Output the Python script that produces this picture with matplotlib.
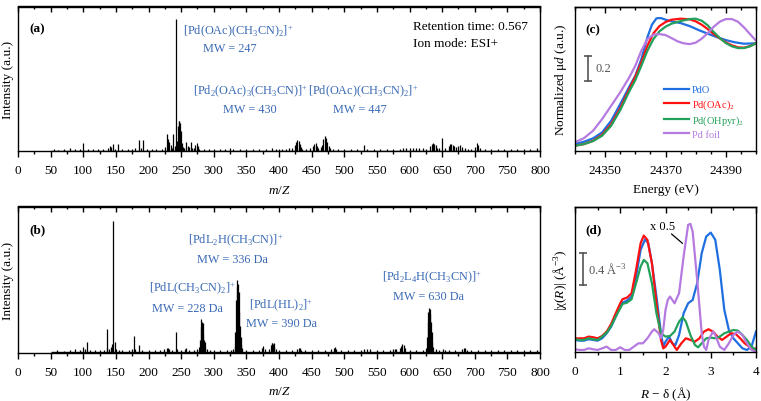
import matplotlib
matplotlib.use('Agg')
import matplotlib.pyplot as plt
from matplotlib.ticker import MultipleLocator, FixedLocator
import matplotlib.transforms as mtrans

plt.rcParams['font.family'] = ['Liberation Serif', 'DejaVu Serif']
plt.rcParams['mathtext.fontset'] = 'custom'
plt.rcParams['mathtext.rm'] = 'Liberation Serif'
plt.rcParams['mathtext.it'] = 'Liberation Serif:italic'
plt.rcParams['mathtext.bf'] = 'Liberation Serif:bold'

# ---------------- data: panel (a) mass spectrum ----------------
a_mz = [55, 62, 70, 80, 88, 95, 100, 108, 115, 122, 130, 138, 141, 143, 145, 148, 153, 160, 168, 175,
        180, 185, 188, 192, 198, 205, 212, 220, 226, 228, 230, 232, 234, 236, 238, 240, 242, 244, 245,
        246, 247, 248, 249, 250, 251, 253, 255, 258, 260, 262, 265, 267, 270, 272, 274, 276, 278, 285,
        292, 300, 310, 318, 325, 330, 340, 350, 360, 370, 380, 390, 395, 400, 405, 410, 415, 420, 424,
        426, 428, 430, 432, 434, 436, 442, 448, 452, 454, 456, 458, 460, 464, 466, 468, 470, 472, 474,
        476, 478, 482, 490, 500, 510, 520, 530, 535, 545, 555, 565, 575, 585, 590, 595, 600, 605, 610,
        615, 620, 625, 632, 634, 636, 638, 640, 642, 645, 650, 655, 660, 662, 664, 666, 668, 672, 675,
        678, 680, 685, 690, 695, 700, 703, 705, 708, 715, 725, 735, 745, 755, 765, 775, 785, 795]
a_int = [1.5, 1, 1.5, 2.5, 2, 1.5, 8, 1.5, 2, 1.5, 2, 3, 5, 4, 7, 2, 6.5, 2, 1.5, 2,
         2.5, 10.5, 3, 11, 2, 2, 1.5, 2, 4, 17, 12, 9, 6, 3, 17, 5, 132, 10, 25,
         30, 30, 28, 12, 20, 8, 4, 3, 9, 5, 4, 9, 3, 3, 6, 8, 5, 2, 2,
         1.5, 2, 1.5, 2, 2.5, 2, 1.5, 2, 1.5, 2, 2, 2.5, 1.5, 2, 2, 2, 3, 3, 6,
         9, 11, 10, 7, 4, 2, 2, 3, 5, 7, 7.5, 5, 3, 4, 6, 12, 14.7, 13, 9,
         5, 3, 2, 2, 1.5, 2, 2, 6, 2, 1.5, 2, 1.5, 2, 2, 3, 3, 3, 2.5, 3,
         2.5, 3, 2, 5, 7, 8, 7, 6, 3, 3, 13, 3, 5, 7, 6.5, 6, 5, 4, 5,
         6, 4, 2.5, 2, 2, 4, 8, 6, 3, 2, 1.5, 2, 1.5, 2, 1.5, 2, 2, 2.5]

# ---------------- data: panel (b) mass spectrum ----------------
b_mz = [60, 70, 80, 88, 95, 100, 103, 105, 110, 118, 125, 132, 136, 137, 139, 142, 144, 146, 148, 150,
        155, 160, 170, 175, 178, 180, 186, 190, 200, 210, 218, 224, 228, 230, 232, 236, 242, 244, 250,
        256, 258, 262, 270, 275, 277, 279, 280, 281, 282, 283, 284, 285, 286, 287, 290, 295, 300, 310,
        320, 326, 330, 332, 333, 334, 335, 336, 337, 338, 339, 340, 341, 342, 344, 350, 360, 370, 374,
        376, 378, 385, 388, 389, 390, 391, 392, 393, 395, 400, 410, 420, 428, 430, 432, 434, 440, 450,
        460, 470, 480, 484, 486, 488, 495, 505, 515, 525, 530, 535, 540, 550, 560, 570, 575, 578, 580,
        585, 587, 589, 591, 593, 600, 610, 620, 625, 627, 628, 629, 630, 631, 632, 633, 634, 635, 636,
        640, 645, 652, 655, 660, 670, 680, 683, 685, 688, 695, 705, 715, 725, 735, 745, 755, 765, 775,
        785, 795]
b_int = [1.5, 1, 2, 2.5, 2, 5, 3, 10, 2, 2, 1.5, 2, 4, 23, 3, 5, 8, 131, 10, 3,
         2, 2, 2, 3, 16, 3, 7, 2, 2, 2, 2, 3, 4, 4, 3, 2, 20, 3, 2,
         3, 4, 2, 2, 3, 5, 12, 25, 33, 30, 29, 18, 12, 10, 5, 3, 2, 2, 2,
         2, 2, 3, 6, 20, 52, 65, 72, 68, 60, 40, 26, 15, 8, 4, 2, 2, 2, 4,
         6, 3, 3, 7, 9, 9, 8, 9, 5, 3, 2, 2, 2, 3, 4, 4, 2, 2, 1.5,
         2, 2, 3, 4, 5, 3, 2, 1.5, 2, 2, 2.5, 3, 2.5, 2, 2, 2, 3, 3, 2.5,
         4, 6, 8, 7, 4, 2, 2, 2, 4, 15, 30, 40, 44, 43, 38, 30, 20, 10, 5,
         3, 2, 3, 2, 2, 2, 3, 4, 4, 2, 2, 2, 1.5, 2, 1.5, 2, 1.5, 2, 1.5,
         2, 2]

# ---------------- data: panel (c) XANES ----------------
c_E_pdo = [24340, 24343, 24346, 24349, 24352, 24355, 24358, 24360, 24362, 24364, 24365.5, 24367,
           24368.5, 24370, 24372, 24375, 24378, 24381, 24384, 24387, 24390, 24393, 24396, 24400]
c_pdo = [0.053, 0.072, 0.099, 0.147, 0.24, 0.373, 0.512, 0.6, 0.733, 0.907, 1.008, 1.059,
         1.061, 1.048, 1.035, 1.021, 0.997, 0.965, 0.936, 0.909, 0.885, 0.867, 0.856, 0.859]
c_E = [24340, 24343, 24346, 24349, 24352, 24355, 24358, 24360, 24362, 24364, 24366, 24368, 24370,
       24372, 24375, 24378, 24380, 24382, 24384, 24386, 24388, 24390, 24392, 24394, 24396, 24398, 24400]
c_oac = [0.04, 0.053, 0.08, 0.128, 0.213, 0.341, 0.493, 0.592, 0.707, 0.84, 0.939, 0.997, 1.029,
         1.048, 1.056, 1.051, 1.035, 1.008, 0.973, 0.933, 0.899, 0.867, 0.843, 0.827, 0.824, 0.837, 0.859]
c_ohpyr = [0.04, 0.053, 0.077, 0.12, 0.2, 0.325, 0.475, 0.565, 0.68, 0.8, 0.893, 0.955, 0.992,
           1.016, 1.037, 1.053, 1.056, 1.04, 1.003, 0.949, 0.901, 0.861, 0.835, 0.821, 0.821, 0.835, 0.859]
c_E_foil = [24340, 24343, 24346, 24349, 24352, 24355, 24358, 24360, 24362, 24364, 24366, 24368, 24370,
            24372, 24374, 24376, 24378, 24380, 24382, 24384, 24386, 24388, 24390, 24392, 24394, 24396,
            24398, 24400]
c_foil = [0.067, 0.101, 0.16, 0.253, 0.36, 0.467, 0.587, 0.68, 0.8, 0.893, 0.928, 0.933, 0.925,
          0.901, 0.875, 0.859, 0.853, 0.864, 0.896, 0.941, 0.992, 1.032, 1.053, 1.053, 1.032, 0.987,
          0.933, 0.88]

# ---------------- data: panel (d) EXAFS |chi(R)| ----------------
d_R_pdo = [0, 0.1, 0.2, 0.3, 0.4, 0.5, 0.6, 0.7, 0.8, 0.9, 1.0, 1.05, 1.15, 1.25, 1.35, 1.45, 1.55, 1.62,
           1.7, 1.8, 1.9, 1.95, 2.0, 2.08, 2.15, 2.22, 2.3, 2.4, 2.5, 2.6, 2.7, 2.8, 2.9, 3.0, 3.1, 3.2,
           3.3, 3.4, 3.5, 3.6, 3.7, 3.8, 3.9, 4.0]
d_pdo = [0.153, 0.144, 0.144, 0.161, 0.153, 0.144, 0.173, 0.235, 0.318, 0.441, 0.565, 0.614, 0.639,
         0.689, 0.936, 1.266, 1.398, 1.348, 1.101, 0.689, 0.235, 0.07, 0.132, 0.194, 0.111, 0.091,
         0.214, 0.482, 0.606, 0.647, 0.854, 1.225, 1.431, 1.48, 1.39, 1.019, 0.524, 0.276, 0.173,
         0.111, 0.049, 0.029, 0.07, 0.256]
d_R_oac = [0, 0.1, 0.2, 0.3, 0.4, 0.5, 0.6, 0.7, 0.8, 0.9, 1.0, 1.05, 1.15, 1.25, 1.35, 1.45, 1.52, 1.6,
           1.7, 1.8, 1.9, 1.95, 2.0, 2.1, 2.2, 2.25, 2.35, 2.45, 2.55, 2.65, 2.75, 2.85, 2.95, 3.05,
           3.15, 3.25, 3.35, 3.45, 3.55, 3.65, 3.75, 3.85, 3.95, 4.0]
d_oac = [0.173, 0.173, 0.173, 0.194, 0.186, 0.173, 0.202, 0.256, 0.351, 0.482, 0.606, 0.656, 0.676,
         0.73, 1.019, 1.348, 1.443, 1.39, 1.101, 0.606, 0.153, 0.049, 0.07, 0.153, 0.07, 0.029,
         0.111, 0.173, 0.153, 0.132, 0.173, 0.256, 0.285, 0.256, 0.194, 0.153, 0.194, 0.235, 0.227,
         0.173, 0.111, 0.07, 0.037, 0.049]
d_R_ohpyr = [0, 0.1, 0.2, 0.3, 0.4, 0.5, 0.6, 0.7, 0.8, 0.9, 1.0, 1.05, 1.15, 1.25, 1.35, 1.45, 1.52,
             1.6, 1.7, 1.8, 1.9, 2.0, 2.1, 2.2, 2.3, 2.38, 2.45, 2.55, 2.65, 2.72, 2.8, 2.9, 3.0, 3.1,
             3.2, 3.3, 3.4, 3.5, 3.6, 3.7, 3.8, 3.9, 4.0]
d_ohpyr = [0.161, 0.153, 0.153, 0.173, 0.161, 0.153, 0.194, 0.243, 0.326, 0.441, 0.544, 0.598, 0.614,
           0.656, 0.854, 1.06, 1.142, 1.101, 0.854, 0.482, 0.235, 0.194, 0.202, 0.256, 0.379, 0.433,
           0.379, 0.214, 0.091, 0.062, 0.111, 0.173, 0.181, 0.173, 0.194, 0.235, 0.256, 0.276, 0.268,
           0.214, 0.153, 0.07, 0.029]
d_R_foil = [0, 0.1, 0.2, 0.3, 0.4, 0.5, 0.6, 0.7, 0.8, 0.9, 1.0, 1.1, 1.2, 1.3, 1.4, 1.5, 1.6, 1.7,
            1.75, 1.85, 1.9, 1.95, 2.0, 2.05, 2.1, 2.2, 2.3, 2.4, 2.5, 2.55, 2.6, 2.7, 2.8, 2.85, 2.9,
            2.95, 3.05, 3.1, 3.2, 3.3, 3.4, 3.5, 3.6, 3.7, 3.8, 3.9, 4.0]
d_foil = [0.037, 0.029, 0.029, 0.049, 0.037, 0.029, 0.049, 0.07, 0.029, 0.029, 0.062, 0.029, 0.029,
          0.07, 0.111, 0.111, 0.173, 0.256, 0.285, 0.235, 0.173, 0.276, 0.524, 0.647, 0.689, 0.606,
          0.73, 1.184, 1.575, 1.588, 1.493, 0.895, 0.235, 0.07, 0.029, 0.153, 0.256, 0.214, 0.07,
          0.029, 0.111, 0.214, 0.256, 0.214, 0.111, 0.029, 0.008]

series_labels = ['PdO', 'Pd(OAc)$_2$', 'Pd(OHpyr)$_2$', 'Pd foil']
series_colors = ['#1f6fe0', '#ff1010', '#23a05a', '#b57ae0']
ms_xticks = list(range(0, 801, 50))
c_xticks = [24350, 24370, 24390]
d_xticks = [0, 1, 2, 3, 4]

BLUE_TXT = '#3a6ab4'
FS = 9.5
AFS = 8.8
XLAB_Y = -0.225

fig = plt.figure(figsize=(7.61, 4.02), dpi=100)
W, H = 761, 402


def ax_at(l, t, r, b):
    return fig.add_axes([l / W, 1 - b / H, (r - l) / W, (b - t) / H])


axA = ax_at(18, 7.5, 540, 152.3)
axB = ax_at(18, 207.5, 540, 353.5)
axC = ax_at(575, 7.7, 756, 151.7)
axD = ax_at(575, 207.7, 756, 353.3)


def style(ax, major, minor, xlim):
    ax.set_xlim(*xlim)
    ax.set_yticks([])
    for s in ax.spines.values():
        s.set_linewidth(1.0)
    ax.xaxis.set_major_locator(FixedLocator(major))
    ax.xaxis.set_minor_locator(MultipleLocator(minor))
    ax.tick_params(axis='x', which='major', direction='out', length=4, width=1.0,
                   labelsize=FS, pad=5.5, top=False)
    ax.tick_params(axis='x', which='minor', direction='out', length=2.5, width=1.0, top=False)
    sec = ax.secondary_xaxis('top')
    sec.xaxis.set_major_locator(FixedLocator(major))
    sec.xaxis.set_minor_locator(MultipleLocator(minor))
    sec.tick_params(axis='x', which='major', direction='in', length=4, width=1.0, labeltop=False)
    sec.tick_params(axis='x', which='minor', direction='in', length=2.5, width=1.0)
    sec.spines['top'].set_linewidth(1.0)


# ---------------- panel (a) ----------------
axA.vlines(a_mz, 0.8, [v + 0.8 for v in a_int], color='black', lw=0.9)
axA.hlines(0.8, 50, 800, color='black', lw=1.0)
axA.set_ylim(0, 144.8)
style(axA, ms_xticks, 25, (0, 800))
axA.set_xticklabels([str(t) for t in ms_xticks])
axA.set_ylabel('Intensity (a.u.)', fontsize=FS)
axA.yaxis.set_label_coords(-0.008, 0.5)
axA.set_xlabel('$m/Z$', fontsize=FS)
axA.xaxis.set_label_coords(0.5, XLAB_Y)
axA.text(0.0216, 0.85, '(a)', transform=axA.transAxes, fontsize=FS, fontweight='bold', va='center')
axA.text(0.316, 0.83, '[Pd(OAc)(CH$_3$CN)$_2$]$^{+}$', transform=axA.transAxes, fontsize=AFS,
         color=BLUE_TXT, va='center')
axA.text(0.354, 0.712, 'MW = 247', transform=axA.transAxes, fontsize=AFS, color=BLUE_TXT, va='center')
axA.text(0.335, 0.42, '[Pd$_2$(OAc)$_3$(CH$_3$CN)]$^{+}$', transform=axA.transAxes, fontsize=AFS,
         color=BLUE_TXT, va='center')
axA.text(0.393, 0.291, 'MW = 430', transform=axA.transAxes, fontsize=AFS, color=BLUE_TXT, va='center')
axA.text(0.556, 0.42, '[Pd(OAc)(CH$_3$CN)$_2$]$^{+}$', transform=axA.transAxes, fontsize=AFS,
         color=BLUE_TXT, va='center')
axA.text(0.603, 0.291, 'MW = 447', transform=axA.transAxes, fontsize=AFS, color=BLUE_TXT, va='center')
axA.text(0.757, 0.864, 'Retention time: 0.567', transform=axA.transAxes, fontsize=FS, va='center')
axA.text(0.757, 0.747, 'Ion mode: ESI+', transform=axA.transAxes, fontsize=FS, va='center')

# ---------------- panel (b) ----------------
axB.vlines(b_mz, 0.8, [v + 0.8 for v in b_int], color='black', lw=0.9)
axB.hlines(0.8, 50, 800, color='black', lw=1.0)
axB.set_ylim(0, 146)
style(axB, ms_xticks, 25, (0, 800))
axB.set_xticklabels([str(t) for t in ms_xticks])
axB.set_ylabel('Intensity (a.u.)', fontsize=FS)
axB.yaxis.set_label_coords(-0.008, 0.5)
axB.set_xlabel('$m/Z$', fontsize=FS)
axB.xaxis.set_label_coords(0.5, XLAB_Y)
axB.text(0.0216, 0.846, '(b)', transform=axB.transAxes, fontsize=FS, fontweight='bold', va='center')
axB.text(0.326, 0.77, '[PdL$_2$H(CH$_3$CN)]$^{+}$', transform=axB.transAxes, fontsize=AFS,
         color=BLUE_TXT, va='center')
axB.text(0.343, 0.64, 'MW = 336 Da', transform=axB.transAxes, fontsize=AFS, color=BLUE_TXT, va='center')
axB.text(0.251, 0.44, '[PdL(CH$_3$CN)$_2$]$^{+}$', transform=axB.transAxes, fontsize=AFS,
         color=BLUE_TXT, va='center')
axB.text(0.256, 0.305, 'MW = 228 Da', transform=axB.transAxes, fontsize=AFS, color=BLUE_TXT, va='center')
axB.text(0.443, 0.325, '[PdL(HL)$_2$]$^{+}$', transform=axB.transAxes, fontsize=AFS,
         color=BLUE_TXT, va='center')
axB.text(0.437, 0.2, 'MW = 390 Da', transform=axB.transAxes, fontsize=AFS, color=BLUE_TXT, va='center')
axB.text(0.697, 0.52, '[Pd$_2$L$_4$H(CH$_3$CN)]$^{+}$', transform=axB.transAxes, fontsize=AFS,
         color=BLUE_TXT, va='center')
axB.text(0.718, 0.389, 'MW = 630 Da', transform=axB.transAxes, fontsize=AFS, color=BLUE_TXT, va='center')

# ---------------- panel (c) ----------------
c_x = [c_E_pdo, c_E, c_E, c_E_foil]
c_y = [c_pdo, c_oac, c_ohpyr, c_foil]
for xs, ys, lab, col in zip(c_x, c_y, series_labels, series_colors):
    axC.plot(xs, ys, color=col, lw=1.6, label=lab, solid_joinstyle='round')
axC.set_ylim(0, 1.152)
style(axC, c_xticks, 5, (24340, 24400))
axC.set_xticklabels([str(t) for t in c_xticks])
axC.set_ylabel('Normalized μ$d$ (a.u.)', fontsize=FS)
axC.yaxis.set_label_coords(-0.033, 0.5)
axC.set_xlabel('Energy (eV)', fontsize=FS)
axC.xaxis.set_label_coords(0.5, XLAB_Y)
axC.text(0.055, 0.845, '(c)', transform=axC.transAxes, fontsize=FS, fontweight='bold', va='center')
trC = mtrans.blended_transform_factory(axC.transAxes, axC.transData)
axC.plot([0.0735, 0.0735], [0.56, 0.76], transform=trC, color='#555555', lw=1.2,
         marker='_', markersize=6, markeredgewidth=1.2)
axC.text(0.115, 0.66, '0.2', transform=trC, fontsize=9, color='#555555', va='center')
legC = axC.legend(loc='upper left', bbox_to_anchor=(0.49, 0.455), frameon=False, fontsize=7.5,
                  handlelength=2.4, handletextpad=0.3, labelspacing=0.25, borderpad=0,
                  borderaxespad=0, labelcolor='linecolor')

# ---------------- panel (d) ----------------
d_x = [d_R_pdo, d_R_oac, d_R_ohpyr, d_R_foil]
d_y = [d_pdo, d_oac, d_ohpyr, d_foil]
for xs, ys, col in zip(d_x, d_y, series_colors):
    axD.plot(xs, ys, color=col, lw=1.6, solid_joinstyle='round')
axD.set_ylim(0, 1.8)
style(axD, d_xticks, 0.5, (0, 4))
axD.set_xticklabels([str(t) for t in d_xticks])
axD.set_ylabel('|χ($R$)| (Å$^{-3}$)', fontsize=FS)
axD.yaxis.set_label_coords(-0.033, 0.5)
axD.set_xlabel('$R$ − δ (Å)', fontsize=FS)
axD.xaxis.set_label_coords(0.5, XLAB_Y)
axD.text(0.055, 0.845, '(d)', transform=axD.transAxes, fontsize=FS, fontweight='bold', va='center')
trD = mtrans.blended_transform_factory(axD.transAxes, axD.transData)
axD.plot([0.046, 0.046], [0.833, 1.233], transform=trD, color='#555555', lw=1.2,
         marker='_', markersize=6, markeredgewidth=1.2)
axD.text(0.072, 1.03, '0.4 Å$^{-3}$', transform=trD, fontsize=9, color='#555555', va='center')
axD.text(0.414, 0.865, 'x 0.5', transform=axD.transAxes, fontsize=9, va='center')
axD.plot([0.534, 0.593], [0.812, 0.749], transform=axD.transAxes, color='black', lw=0.9)

fig.savefig('out.png', dpi=100)
